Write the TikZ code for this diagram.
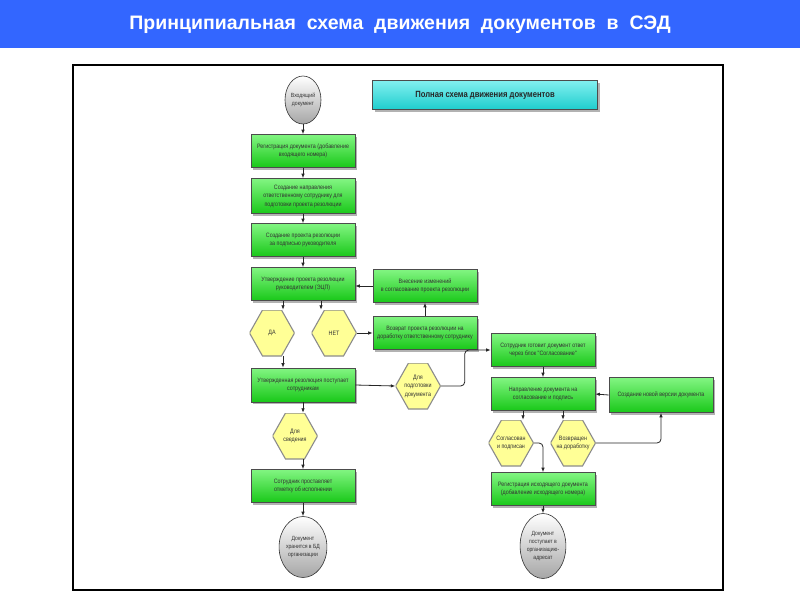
\documentclass[tikz,border=0pt]{standalone}
\usepackage{fontspec}
\setmainfont{Liberation Sans}
\newfontfamily\narrowfont[FakeStretch=0.85]{Liberation Sans}
\usetikzlibrary{shapes.geometric,shadows,arrows.meta}
\definecolor{hdrblue}{RGB}{51,102,255}
\definecolor{gtop}{RGB}{130,245,130}
\definecolor{gbot}{RGB}{25,200,25}
\definecolor{hexfill}{RGB}{255,255,150}
\definecolor{cyantop}{RGB}{130,240,240}
\definecolor{cyanbot}{RGB}{30,205,205}
\tikzset{
  gbox/.style={rectangle, draw=black!70, line width=0.6pt, top color=gtop, bottom color=gbot,
    minimum width=104pt, minimum height=33pt, inner sep=1pt, align=center,
    font=\narrowfont\fontsize{6.3}{8.5}\selectfont, text=black!80,
    drop shadow={shadow xshift=2pt,shadow yshift=-2pt,fill=black!30,opacity=1}},
  hexn/.style={rectangle, minimum width=45pt, minimum height=46pt,
    inner sep=0pt, align=center, font=\narrowfont\fontsize{6.3}{8.5}\selectfont, text=black!80,
    path picture={\filldraw[fill=hexfill, draw=black!45, line width=1.1pt]
      (path picture bounding box.west)
      -- ([xshift=13pt]path picture bounding box.north west)
      -- ([xshift=-13pt]path picture bounding box.north east)
      -- (path picture bounding box.east)
      -- ([xshift=-13pt]path picture bounding box.south east)
      -- ([xshift=13pt]path picture bounding box.south west) -- cycle;}},
  elln/.style={ellipse, draw=black!80, line width=0.6pt, top color=white, bottom color=black!35,
    inner sep=0pt, align=center, font=\narrowfont\fontsize{6}{8}\selectfont, text=black!80},
  arr/.style={-{Latex[length=4.5pt,width=3.5pt]}, line width=0.8pt, draw=black!85},
}
\begin{document}
\begin{tikzpicture}[x=1pt,y=-1pt]
\useasboundingbox (0,0) rectangle (800,600);
\fill[white] (0,0) rectangle (800,600);
\fill[hdrblue] (0,0) rectangle (800,48);
\node[font=\bfseries\fontsize{19.5}{22}\selectfont, text=white] (hdr) at (400,25)
  {Принципиальная\ \ схема\ \ движения\ \ документов\ \ в\ \ СЭД};
\draw[line width=2.5pt] (73,65) rectangle (723,590);

% title box
\node[rectangle, draw=black!70, line width=0.6pt, top color=cyantop, bottom color=cyanbot,
  minimum width=225pt, minimum height=29pt,
  drop shadow={shadow xshift=2pt,shadow yshift=-2pt,fill=black!30,opacity=1},
  font=\narrowfont\bfseries\fontsize{9}{10}\selectfont, text=black!85] (ttl) at (485,95)
  {Полная схема движения документов};

% left column
\node[elln, minimum width=36pt, minimum height=48pt] (start) at (303,100) {Входящий\\документ};
\node[gbox] (b1) at (303,151) {Регистрация документа (добавление\\входящего номера)};
\node[gbox, minimum height=35pt] (b2) at (303,196) {Создание направления\\ответственному сотруднику для\\подготовки проекта резолюции};
\node[gbox] (b3) at (303,240) {Создание проекта резолюции\\за подписью руководителя};
\node[gbox] (b4) at (303,284) {Утверждение проекта резолюции\\руководителем (ЭЦП)};
\node[hexn] (da) at (272,333) {ДА};
\node[hexn] (net) at (334,333) {НЕТ};
\node[gbox] (vnes) at (425,286) {Внесение изменений\\в согласование проекта резолюции};
\node[gbox] (ret) at (425,333) {Возврат проекта резолюции на\\доработку ответственному сотруднику};
\node[gbox, minimum height=34pt] (ut) at (303,385) {Утвержденная резолюция поступает\\сотрудникам};
\node[hexn] (dp) at (418,386) {Для\\подготовки\\документа};
\node[hexn] (ds) at (295,436) {Для\\сведения};
\node[gbox] (sp) at (303,486) {Сотрудник проставляет\\отметку об исполнении};
\node[elln, minimum width=40pt, minimum height=61pt] (end1) at (303,547) {Документ\\хранится в БД\\организации};

% right column
\node[gbox] (sg) at (543,350) {Сотрудник готовит документ ответ\\через блок "Согласование"};
\node[gbox] (np) at (543,394) {Направление документа на\\согласование и подпись};
\node[gbox, minimum height=35pt] (nv) at (661,395) {Создание новой версии документа};
\node[hexn] (sogl) at (511,443) {Согласован\\и подписан};
\node[hexn] (vozv) at (573,443) {Возвращен\\на доработку};
\node[gbox] (ri) at (543,489) {Регистрация исходящего документа\\(добавление исходящего номера)};
\node[elln, minimum width=42pt, minimum height=65pt] (end2) at (543,546) {Документ\\поступает в\\организацию-\\адресат};

% connectors left
\draw[arr] (start.south) -- (b1.north);
\draw[arr] (b1.south) -- (b2.north);
\draw[arr] (b2.south) -- (b3.north);
\draw[arr] (b3.south) -- (b4.north);
\draw[arr] ([xshift=-20pt]b4.south) -- ([xshift=-20pt]b4.south |- da.north);
\draw[arr] ([xshift=18pt]b4.south) -- ([xshift=18pt]b4.south |- net.north);
\draw[arr] (net.east) -- (ret.west);
\draw[arr] (ret.north) -- (vnes.south);
\draw[arr] (vnes.west) -- (vnes.west -| b4.east);
\draw[arr] ([xshift=11pt]da.south) -- ([xshift=11pt]da.south |- ut.north);
\draw[arr] (ut.east) -- (dp.west);
\draw[arr, rounded corners=4pt] (dp.east) -- ++(24,0) |- (sg.west);
\draw[arr] (ut.south) -- (ut.south |- ds.north);
\draw[arr] (sp.north |- ds.south) -- (sp.north);
\draw[arr] (sp.south) -- (end1.north);

% connectors right
\draw[arr] (sg.south) -- (np.north);
\draw[arr] (nv.west) -- (np.east);
\draw[arr] ([xshift=-20pt]np.south) -- ([xshift=-20pt]np.south |- sogl.north);
\draw[arr] ([xshift=20pt]np.south) -- ([xshift=20pt]np.south |- vozv.north);
\draw[arr, rounded corners=4pt] (sogl.east) -| (ri.north);
\draw[arr, rounded corners=4pt] (vozv.east) -| (nv.south);
\draw[arr] (ri.south) -- (end2.north);
\end{tikzpicture}
\end{document}
